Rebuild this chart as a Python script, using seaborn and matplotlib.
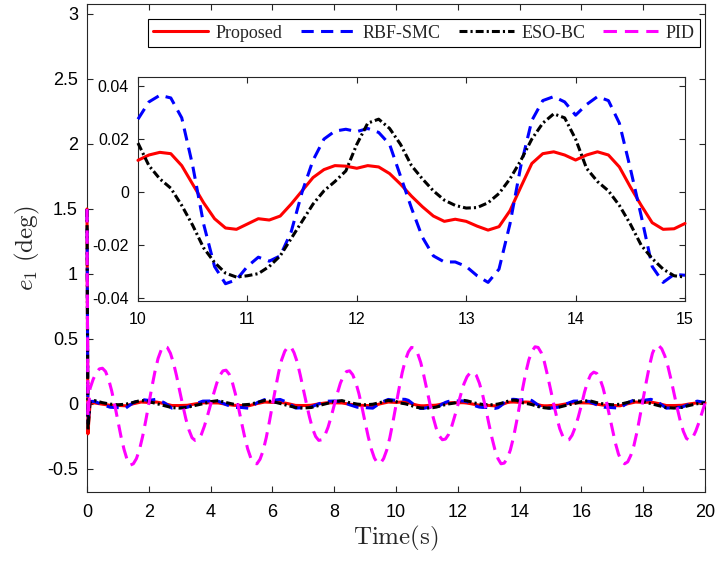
#!/usr/bin/env python3
"""
Tracking error e1 of four controllers, with a zoomed inset for 10-15 s
"""

import numpy as np
import pandas as pd
import matplotlib
matplotlib.use("Agg")
import matplotlib.pyplot as plt
import seaborn as sns

# time grids (s)
t_err = np.concatenate((
    [0.0, 0.03, 0.1],
    np.arange(1, 40) * 0.25,          # 0.25 .. 9.75
    10 + np.arange(51) * 0.1,         # 10.0 .. 15.0 (finer, for the inset)
    15 + np.arange(1, 21) * 0.25,     # 15.25 .. 20.0
))
t_pid = np.concatenate(([0.0, 0.03], np.round(np.arange(1, 201) * 0.1, 1)))

# e1 (deg)
e_proposed = [
    1.5, -0.23, 0.01,
    0.008, -0.0015, -0.010, -0.011, -0.014, 0.002, 0.015, 0.012,
    0.015, 0.003, -0.012, -0.012, -0.010, 0.0005, 0.009, 0.009,
    0.008, -0.002, -0.010, -0.012, -0.013, 0.003, 0.015, 0.012,
    0.014, 0.003, -0.011, -0.012, -0.010, 0.001, 0.009, 0.009,
    0.008, -0.0015, -0.010, -0.011, -0.014, 0.002, 0.015,
    0.012, 0.014, 0.015, 0.0145, 0.010, 0.003, -0.004, -0.010, -0.0135, -0.014,
    -0.012, -0.010, -0.0105, -0.009, -0.0045, 0.0005, 0.0055, 0.0085, 0.010, 0.0098,
    0.009, 0.010, 0.0095, 0.007, 0.003, -0.0015, -0.0055, -0.009, -0.011, -0.0102,
    -0.011, -0.0128, -0.0143, -0.013, -0.007, 0.002, 0.0108, 0.0145, 0.0152, 0.014,
    0.0121, 0.014, 0.0152, 0.014, 0.0095, 0.002, -0.005, -0.0115, -0.014, -0.0138,
    -0.0118,
    -0.010, 0.0005, 0.009, 0.009, 0.008, -0.0015, -0.010, -0.011, -0.014, 0.002,
    0.015, 0.012, 0.015, 0.003, -0.012, -0.012, -0.010, 0.0005, 0.009, 0.009,
]
e_rbf_smc = [
    1.5, -0.15, 0.02,
    0.020, -0.006, -0.025, -0.028, -0.032, 0.010, 0.035, 0.0275,
    0.036, 0.010, -0.032, -0.028, -0.025, 0.000, 0.022, 0.0228,
    0.021, -0.005, -0.026, -0.027, -0.033, 0.009, 0.034, 0.028,
    0.035, 0.011, -0.031, -0.029, -0.024, 0.001, 0.021, 0.023,
    0.020, -0.006, -0.025, -0.028, -0.032, 0.010, 0.035,
    0.0275, 0.034, 0.0365, 0.0355, 0.028, 0.010, -0.012, -0.028, -0.0345, -0.033,
    -0.028, -0.0245, -0.026, -0.024, -0.015, 0.000, 0.012, 0.020, 0.023, 0.0237,
    0.0228, 0.024, 0.0225, 0.018, 0.006, -0.006, -0.017, -0.024, -0.0263, -0.0263,
    -0.028, -0.0315, -0.034, -0.029, -0.012, 0.010, 0.027, 0.0345, 0.036, 0.034,
    0.029, 0.033, 0.036, 0.0345, 0.026, 0.009, -0.009, -0.028, -0.034, -0.031,
    -0.0313,
    -0.025, 0.000, 0.022, 0.0228, 0.020, -0.006, -0.025, -0.028, -0.032, 0.010,
    0.035, 0.0275, 0.036, 0.010, -0.032, -0.028, -0.025, 0.000, 0.022, 0.012,
]
e_eso_bc = [
    1.5, -0.2, 0.02,
    0.026, 0.010, -0.001, -0.006, -0.002, 0.012, 0.028, 0.0185,
    0.003, -0.0125, -0.028, -0.0315, -0.026, -0.011, 0.002, 0.018,
    0.026, 0.011, -0.002, -0.007, -0.003, 0.011, 0.027, 0.019,
    0.004, -0.012, -0.027, -0.031, -0.027, -0.012, 0.003, 0.018,
    0.026, 0.010, -0.001, -0.006, -0.002, 0.012, 0.028,
    0.0185, 0.010, 0.005, 0.0015, -0.005, -0.0125, -0.021, -0.0265, -0.0305, -0.032,
    -0.0315, -0.0307, -0.028, -0.024, -0.0175, -0.011, -0.0045, 0.0005, 0.004, 0.008,
    0.018, 0.026, 0.0275, 0.024, 0.018, 0.010, 0.005, 0.0005, -0.003, -0.005,
    -0.006, -0.0058, -0.004, -0.0005, 0.005, 0.012, 0.020, 0.026, 0.0295, 0.028,
    0.020, 0.009, 0.004, 0.0005, -0.005, -0.012, -0.020, -0.025, -0.029, -0.0315,
    -0.032,
    -0.026, -0.011, 0.002, 0.018, 0.026, 0.010, -0.001, -0.006, -0.002, 0.012,
    0.028, 0.0185, 0.003, -0.0125, -0.028, -0.0315, -0.026, -0.011, 0.002, 0.01,
]
e_pid = [
    1.5, -0.1,
    0.12, 0.19, 0.24, 0.27, 0.275, 0.25, 0.19, 0.10, -0.01, -0.13,
    -0.25, -0.35, -0.43, -0.47, -0.46, -0.42, -0.35, -0.25, -0.13, 0.0,
    0.13, 0.25, 0.35, 0.415, 0.445, 0.435, 0.39, 0.315, 0.215, 0.10,
    -0.01, -0.115, -0.20, -0.26, -0.28, -0.275, -0.235, -0.17, -0.09, -0.005,
    0.08, 0.16, 0.22, 0.255, 0.26, 0.23, 0.17, 0.08, -0.025, -0.14,
    -0.25, -0.345, -0.415, -0.455, -0.46, -0.425, -0.36, -0.26, -0.14, -0.01,
    0.12, 0.24, 0.34, 0.405, 0.44, 0.44, 0.395, 0.325, 0.225, 0.115,
    0.005, -0.10, -0.19, -0.25, -0.28, -0.275, -0.24, -0.18, -0.10, -0.01,
    0.08, 0.16, 0.215, 0.25, 0.255, 0.225, 0.165, 0.08, -0.025, -0.14,
    -0.25, -0.345, -0.415, -0.455, -0.455, -0.42, -0.355, -0.26, -0.14, -0.01,
    0.12, 0.24, 0.335, 0.40, 0.435, 0.43, 0.39, 0.32, 0.22, 0.11,
    0.0, -0.10, -0.185, -0.245, -0.275, -0.27, -0.235, -0.175, -0.095, -0.01,
    0.075, 0.155, 0.21, 0.24, 0.245, 0.22, 0.16, 0.075, -0.03, -0.145,
    -0.255, -0.35, -0.42, -0.46, -0.455, -0.42, -0.355, -0.26, -0.14, -0.01,
    0.12, 0.24, 0.34, 0.405, 0.44, 0.435, 0.395, 0.325, 0.225, 0.115,
    0.005, -0.10, -0.19, -0.25, -0.28, -0.275, -0.24, -0.18, -0.10, -0.01,
    0.09, 0.17, 0.225, 0.245, 0.235, 0.195, 0.125, 0.03, -0.08, -0.19,
    -0.30, -0.385, -0.44, -0.46, -0.445, -0.395, -0.32, -0.215, -0.09, 0.04,
    0.17, 0.29, 0.39, 0.445, 0.45, 0.425, 0.37, 0.29, 0.19, 0.08,
    -0.03, -0.13, -0.21, -0.265, -0.28, -0.26, -0.21, -0.145, -0.07, 0.005,
]

labels = ["Proposed", "RBF-SMC", "ESO-BC", "PID"]
yticks_main = [-0.5, 0, 0.5, 1, 1.5, 2, 2.5, 3]
yticklabels_main = ["-0.5", "0", "0.5", "1", "1.5", "2", "2.5", "3"]
xticks_main = [0, 2, 4, 6, 8, 10, 12, 14, 16, 18, 20]
yticks_zoom = [-0.04, -0.02, 0, 0.02, 0.04]
yticklabels_zoom = ["-0.04", "-0.02", "0", "0.02", "0.04"]
xticks_zoom = [10, 11, 12, 13, 14, 15]

AX_COLOR = "#262626"

STYLES = {
    "Proposed": dict(color="#ff0000", linestyle="-", lw=2.2),
    "RBF-SMC": dict(color="#0000ff", linestyle=(0, (4.0, 2.4)), lw=2.2),
    "ESO-BC": dict(color="black", linestyle=(0, (2.6, 1.0, 0.7, 1.0)), lw=2.2),
    "PID": dict(color="#ff00ff", linestyle=(0, (4.4, 2.6)), lw=2.2),
}


def build_frames():
    """Tables for seaborn"""
    err = pd.DataFrame({"t": t_err, "Proposed": e_proposed,
                        "RBF-SMC": e_rbf_smc, "ESO-BC": e_eso_bc})
    pid = pd.DataFrame({"t": t_pid, "PID": e_pid})
    return err, pid


def draw_lines(ax, err, pid, names, with_labels):
    """Draw the controllers on one axes"""
    for name in names:
        df = pid if name == "PID" else err
        kw = dict(STYLES[name])
        if with_labels:
            kw["label"] = name
        sns.lineplot(data=df, x="t", y=name, ax=ax, errorbar=None,
                     sort=False, legend=False, clip_on=False, **kw)


def style_axes(ax, fontsize, xpad, ypad):
    ax.tick_params(direction="in", top=True, right=True, length=4.5,
                   width=0.8, colors=AX_COLOR, labelsize=fontsize)
    ax.tick_params(axis="x", pad=xpad)
    ax.tick_params(axis="y", pad=ypad)
    for sp in ax.spines.values():
        sp.set_color(AX_COLOR)
        sp.set_linewidth(0.8)
        sp.set_visible(True)
        sp.set_zorder(1)   # curves are drawn over the frame, as in the original
    for lab in ax.get_xticklabels() + ax.get_yticklabels():
        lab.set_color("black")


def main():
    sns.set_theme(style="ticks")
    plt.rcParams["font.family"] = ["Liberation Sans", "DejaVu Sans"]
    plt.rcParams["mathtext.fontset"] = "cm"
    plt.rcParams["axes.unicode_minus"] = False

    err, pid = build_frames()

    fig = plt.figure(figsize=(7.16, 5.61), dpi=100)
    ax = fig.add_axes([0.1215, 0.123, 0.8631, 0.8699])
    draw_lines(ax, err, pid, labels, with_labels=True)
    ax.set_xlim(0, 20)
    ax.set_ylim(-0.677, 3.077)
    ax.set_xticks(xticks_main)
    ax.set_yticks(yticks_main)
    ax.set_yticklabels(yticklabels_main)
    style_axes(ax, 13, 9, 6.5)
    ax.set_xlabel(r"$\mathrm{Time(s)}$", fontsize=18, labelpad=2)
    ax.set_ylabel(r"$e_1\ \mathrm{(deg)}$", fontsize=18, labelpad=4)

    leg = ax.legend(loc="upper right", bbox_to_anchor=(0.9919, 0.969),
                    borderaxespad=0, ncol=4, frameon=True, fancybox=False,
                    framealpha=1, edgecolor="black", handlelength=3.05,
                    handletextpad=0.4, columnspacing=1.0, borderpad=0.3,
                    prop={"family": "Liberation Serif", "size": 13})
    leg.get_frame().set_linewidth(0.8)
    leg.set_zorder(5)

    # inset zoom on 10-15 s (PID is off this scale)
    axz = fig.add_axes([0.1927, 0.4635, 0.764, 0.3993])
    axz.set_facecolor("white")
    err_zoom = err[(err["t"] >= 10) & (err["t"] <= 15)]
    draw_lines(axz, err_zoom, pid, labels[:3], with_labels=False)
    axz.set_xlim(10, 15)
    axz.set_ylim(-0.041, 0.0434)
    axz.set_xticks(xticks_zoom)
    axz.set_yticks(yticks_zoom)
    axz.set_yticklabels(yticklabels_zoom)
    axz.set_xlabel("")
    axz.set_ylabel("")
    style_axes(axz, 11.5, 8, 6.5)

    fig.savefig("out.png", dpi=100)
    print("Saved out.png")


if __name__ == "__main__":
    main()
